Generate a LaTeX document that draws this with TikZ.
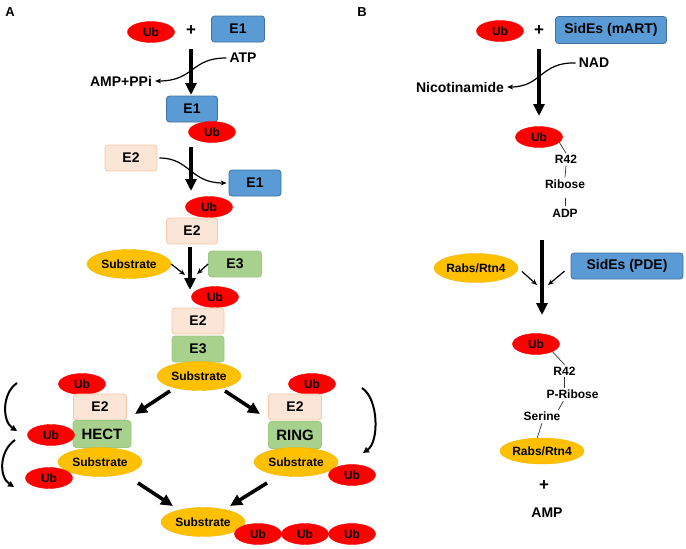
\documentclass[tikz,border=0pt]{standalone}
\usepackage{fontspec}
\setmainfont{Liberation Sans}
\usetikzlibrary{shapes.geometric,arrows.meta}
\definecolor{ubred}{HTML}{FF0000}
\definecolor{eonefill}{HTML}{5B9BD5}
\definecolor{eonedraw}{HTML}{41719C}
\definecolor{etwofill}{HTML}{FBE5D6}
\definecolor{etwodraw}{HTML}{F4C7A8}
\definecolor{ethreefill}{HTML}{A9D18E}
\definecolor{ethreedraw}{HTML}{9DC884}
\definecolor{subfill}{HTML}{FFC000}
\definecolor{subdraw}{HTML}{F2B600}
\begin{document}
\begin{tikzpicture}[x=1pt,y=-1pt,
 ub/.style={ellipse, fill=ubred, draw=ubred, minimum width=47pt, minimum height=21pt, inner sep=0pt, font=\bfseries\fontsize{12}{14}\selectfont},
 boxbase/.style={rectangle, rounded corners=3pt, line width=0.8pt, inner sep=0pt, minimum width=52pt, minimum height=26pt, font=\bfseries\fontsize{14}{16}\selectfont},
 eone/.style={boxbase, fill=eonefill, draw=eonedraw},
 etwo/.style={boxbase, fill=etwofill, draw=etwodraw},
 ethree/.style={boxbase, fill=ethreefill, draw=ethreedraw},
 sub/.style={ellipse, fill=subfill, draw=subdraw, minimum width=84pt, minimum height=29pt, inner sep=0pt, font=\bfseries\fontsize{12}{14}\selectfont},
 biglbl/.style={font=\bfseries\fontsize{14}{16}\selectfont, inner sep=1pt},
 smlbl/.style={font=\bfseries\fontsize{12}{14}\selectfont, inner sep=2pt},
 plus/.style={font=\bfseries\fontsize{17}{18}\selectfont, inner sep=0pt},
 panel/.style={font=\bfseries\fontsize{13}{14}\selectfont, inner sep=0pt},
 bigarrow/.style={line width=3.6pt, -{Triangle[length=12pt,width=11pt]}},
 smallarrow/.style={line width=1.2pt, -{Stealth[length=6pt,width=5pt]}},
 curvearrow/.style={line width=1.2pt, -{Stealth[length=6pt,width=5pt]}},
 sidearrow/.style={line width=2pt, -{Triangle[length=6pt,width=6pt]}},
 bond/.style={line width=0.7pt, draw=black!80}
]
\useasboundingbox (0,0) rectangle (686,549);

% ---------------- Panel A ----------------
\node[panel] (labA) at (10,12) {A};
\node[ub] (ubA1) at (151,32) {Ub};
\node[plus] (plusA) at (191,31) {+};
\node[eone, minimum width=53pt] (e1A1) at (238,29) {E1};
\node[biglbl] (atp) at (243,58) {ATP};
\node[biglbl] (amp) at (121,81) {AMP+PPi};
\node[eone, minimum width=51pt] (e1A2) at (192,109) {E1};
\node[ub] (ubA2) at (212,132) {Ub};

\node[etwo] (e2A1) at (131,158) {E2};
\node[eone] (e1A3) at (255,183) {E1};
\node[ub] (ubA3) at (209,207) {Ub};
\node[etwo, minimum width=51pt] (e2A2) at (192,231) {E2};

\node[sub] (subA1) at (129,264) {Substrate};
\node[ethree, minimum width=53pt] (e3A1) at (235,264) {E3};
\node[ub] (ubA4) at (215,297) {Ub};
\node[etwo] (e2A3) at (198,321) {E2};
\node[ethree] (e3A2) at (198,349) {E3};
\node[sub] (subA2) at (199,376) {Substrate};

% HECT branch
\node[ub] (ubH1) at (82,384) {Ub};
\node[etwo, minimum width=53pt] (e2H) at (100,407) {E2};
\node[ethree, minimum width=58pt, minimum height=27pt, font=\bfseries\fontsize{15}{16}\selectfont] (hect) at (102,434) {HECT};
\node[ub] (ubH2) at (51,435) {Ub};
\node[sub] (subH) at (100,462) {Substrate};
\node[ub] (ubH3) at (49,478) {Ub};

% RING branch
\node[ub] (ubR1) at (312,384) {Ub};
\node[etwo, minimum width=53pt] (e2R) at (295,407) {E2};
\node[ethree, minimum width=53pt, minimum height=27pt, font=\bfseries\fontsize{15}{16}\selectfont] (ring) at (295,435) {RING};
\node[sub] (subR) at (296,462) {Substrate};
\node[ub] (ubR2) at (352,475) {Ub};

% final
\node[sub] (subF) at (203,522) {Substrate};
\node[ub] (ubF1) at (258,534) {Ub};
\node[ub] (ubF2) at (305,534) {Ub};
\node[ub] (ubF3) at (352,534) {Ub};

% arrow end points
\coordinate (a1s) at (191,49);  \coordinate (a1e) at (191,95);
\coordinate (a2s) at (191,147); \coordinate (a2e) at (191,191);
\coordinate (a3s) at (190,247); \coordinate (a3e) at (190,290);
\coordinate (dls) at (170,391); \coordinate (dle) at (135,414);
\coordinate (drs) at (225,391); \coordinate (dre) at (260,414);
\coordinate (fls) at (138,483); \coordinate (fle) at (173,506);
\coordinate (frs) at (267,483); \coordinate (fre) at (230,506);
\coordinate (sa1) at (185,275); \coordinate (sa2) at (197,274);

\draw[bigarrow] (a1s) -- (a1e);
\draw[bigarrow] (a2s) -- (a2e);
\draw[bigarrow] (a3s) -- (a3e);
\draw[bigarrow] (dls) -- (dle);
\draw[bigarrow] (drs) -- (dre);
\draw[bigarrow] (fls) -- (fle);
\draw[bigarrow] (frs) -- (fre);

\draw[curvearrow, shorten <=2pt, shorten >=2pt] (atp.west) .. controls (190,58) and (195,81) .. (amp.east);
\draw[curvearrow, shorten <=2pt, shorten >=2pt] (e2A1.east) .. controls (190,158) and (190,183) .. (e1A3.west);
\draw[smallarrow] (subA1.east) -- (sa1);
\draw[smallarrow] (e3A1.west) -- (sa2);

% side curved arrows
\coordinate (cl1s) at (17,383); \coordinate (cl1e) at (17,431);
\coordinate (cl2s) at (15,440); \coordinate (cl2e) at (14,487);
\coordinate (crs) at (362,388); \coordinate (cre) at (363,453);
\draw[sidearrow] (cl1s) .. controls (2,393) and (2,421) .. (cl1e);
\draw[sidearrow] (cl2s) .. controls (-1,451) and (-1,477) .. (cl2e);
\draw[sidearrow] (crs) .. controls (379,399) and (379,442) .. (cre);

% ---------------- Panel B ----------------
\node[panel] (labB) at (362,12) {B};
\node[ub] (ubB1) at (500,31) {Ub};
\node[plus] (plusB) at (539,31) {+};
\node[eone, minimum width=111pt, minimum height=27pt] (mart) at (611,30) {SidEs (mART)};
\node[biglbl] (nad) at (594,63) {NAD};
\node[biglbl] (nic) at (460,87) {Nicotinamide};
\node[ub] (ubB2) at (539,137) {Ub};
\node[smlbl] (r42a) at (566,159.5) {R42};
\node[smlbl] (ribose) at (565,184) {Ribose};
\node[smlbl] (adp) at (565,213.5) {ADP};

\node[sub] (rabs1) at (476,268) {Rabs/Rtn4};
\node[eone, minimum width=112pt] (pde) at (627,266) {SidEs (PDE)};
\node[ub] (ubB3) at (536,344) {Ub};
\node[smlbl] (r42b) at (564.5,371) {R42};
\node[smlbl] (pribose) at (572.5,394.5) {P-Ribose};
\node[smlbl] (serine) at (542,416.5) {Serine};
\node[sub, minimum height=26pt] (rabs2) at (542,451) {Rabs/Rtn4};
\node[plus] (plusB2) at (544,486) {+};
\node[biglbl] (ampB) at (547,513) {AMP};

\coordinate (b1s) at (539,49);  \coordinate (b1e) at (539,116);
\coordinate (b2s) at (542,240); \coordinate (b2e) at (542,315);
\coordinate (sb1) at (537,285); \coordinate (sb2) at (548,285);
\draw[bigarrow] (b1s) -- (b1e);
\draw[bigarrow] (b2s) -- (b2e);
\draw[curvearrow, shorten <=2pt, shorten >=2pt] (nad.west) .. controls (540,62) and (542,87) .. (nic.east);
\draw[smallarrow, shorten <=5pt] (rabs1.east) -- (sb1);
\draw[smallarrow, shorten <=8pt] (pde.west) -- (sb2);

\draw[bond] (ubB2.-15) -- (r42a.north);
\draw[bond] (r42a.south) -- (ribose.north);
\draw[bond, shorten <=7pt, shorten >=1pt] (ribose.south) -- (adp.north);

\draw[bond] (ubB3.-25) -- (r42b.north);
\draw[bond] (r42b.south) -- (r42b.south |- pribose.north);
\draw[bond] (pribose.-144) -- (serine.22);
\draw[bond] (serine.south) -- (rabs2.110);
\end{tikzpicture}
\end{document}
